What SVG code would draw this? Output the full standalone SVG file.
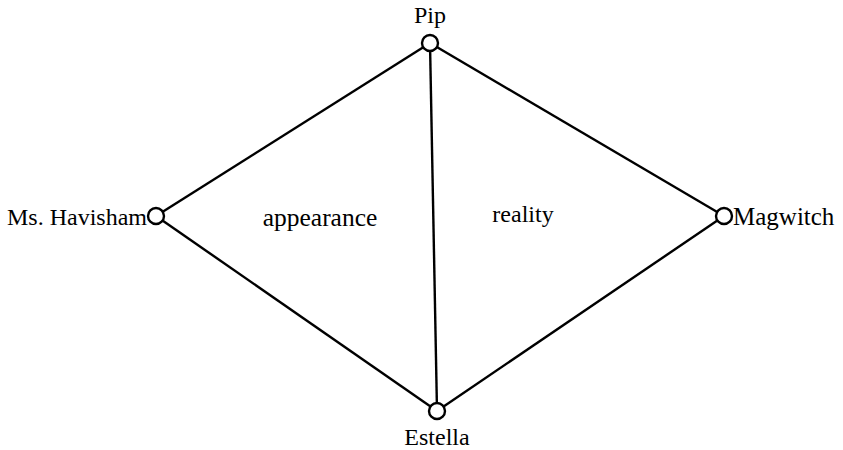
<svg xmlns="http://www.w3.org/2000/svg" width="843" height="450" viewBox="0 0 843 450">
<style>
.edge{stroke:#000;stroke-width:2.4;fill:none}
.node{fill:#fff;stroke:#000;stroke-width:2.4}
text{font-family:"Liberation Serif","Times New Roman",serif;font-size:24px;fill:#000}
</style>
<rect width="843" height="450" fill="#fff"/>
<g id="connectors">
<line class="edge" x1="430" y1="43" x2="156" y2="216"/>
<line class="edge" x1="430" y1="43" x2="724" y2="216"/>
<line class="edge" x1="430" y1="43" x2="437" y2="411"/>
<line class="edge" x1="156" y1="216" x2="437" y2="411"/>
<line class="edge" x1="724" y1="216" x2="437" y2="411"/>
</g>
<g id="pip"><circle class="node" cx="430" cy="43" r="8"/><text x="430" y="23" text-anchor="middle">Pip</text></g>
<g id="havisham"><circle class="node" cx="156" cy="216" r="8"/><text x="147" y="225" text-anchor="end">Ms. Havisham</text></g>
<g id="magwitch"><circle class="node" cx="724" cy="216" r="8"/><text x="733" y="225" style="font-size:25px">Magwitch</text></g>
<g id="estella"><circle class="node" cx="437" cy="411" r="8"/><text x="437" y="445" text-anchor="middle">Estella</text></g>
<g id="labels"><text x="320" y="226" text-anchor="middle" style="font-size:25.5px">appearance</text><text x="523" y="222" text-anchor="middle">reality</text></g>
</svg>
